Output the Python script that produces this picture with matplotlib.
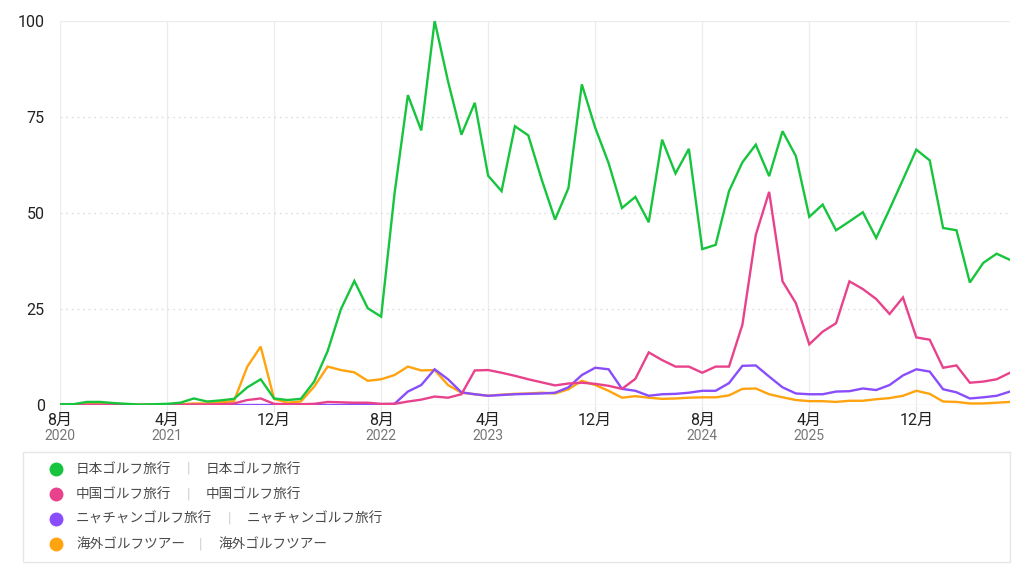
import pandas as pd
import matplotlib
matplotlib.use('Agg')
import matplotlib.pyplot as plt
from matplotlib.patches import Rectangle
from matplotlib.lines import Line2D
import matplotlib.transforms as mtransforms

plt.rcParams['font.family'] = ['Roboto', 'Noto Sans CJK JP', 'DejaVu Sans']

# monthly, Aug 2020 .. Jul 2026
months = pd.date_range('2020-08-01', periods=72, freq='MS')

japan = [0.2, 0.2, 0.8, 0.8, 0.5, 0.3, 0.1, 0.2, 0.3, 0.6, 1.7, 0.9, 1.2, 1.6, 4.6, 6.7,
         1.7, 1.3, 1.6, 6.1, 14.0, 25.0, 32.3, 25.2, 23.0, 55.0, 80.7, 71.5, 100.0, 84.3, 70.4, 78.7,
         59.7, 55.7, 72.6, 70.2, 58.7, 48.3, 56.5, 83.5, 72.2, 63.0, 51.3, 54.2, 47.6, 69.1, 60.3, 66.7,
         40.6, 41.7, 55.7, 63.2, 67.8, 59.6, 71.3, 64.8, 49.0, 52.2, 45.5, 47.8, 50.2, 43.5, 51.0, 58.7,
         66.5, 63.7, 46.1, 45.5, 31.9, 37.0, 39.4, 37.8]
china = [0.0, 0.0, 0.0, 0.0, 0.0, 0.0, 0.0, 0.0, 0.0, 0.0, 0.1, 0.1, 0.2, 0.4, 1.3, 1.7,
         0.3, 0.2, 0.2, 0.3, 0.8, 0.7, 0.6, 0.6, 0.3, 0.3, 0.9, 1.4, 2.2, 1.9, 2.8, 9.0,
         9.1, 8.4, 7.6, 6.7, 5.9, 5.1, 5.6, 5.8, 5.5, 5.0, 4.2, 6.8, 13.7, 11.7, 10.0, 10.0,
         8.4, 10.0, 10.0, 20.9, 44.3, 55.5, 32.2, 26.5, 15.8, 19.1, 21.3, 32.2, 30.2, 27.6, 23.7, 28.0,
         17.6, 17.0, 9.7, 10.3, 5.8, 6.1, 6.7, 8.4]
nhatrang = [0.0, 0.0, 0.0, 0.0, 0.0, 0.0, 0.0, 0.0, 0.0, 0.0, 0.0, 0.0, 0.0, 0.0, 0.0, 0.0,
            0.0, 0.0, 0.0, 0.0, 0.0, 0.0, 0.2, 0.2, 0.2, 0.3, 3.5, 5.2, 9.3, 6.7, 3.3, 2.8,
            2.4, 2.6, 2.8, 2.9, 3.0, 3.2, 4.6, 7.8, 9.7, 9.3, 4.2, 3.7, 2.4, 2.8, 2.9, 3.2,
            3.7, 3.7, 5.7, 10.2, 10.3, 7.4, 4.6, 3.0, 2.8, 2.8, 3.5, 3.6, 4.3, 3.9, 5.2, 7.7,
            9.3, 8.7, 4.1, 3.3, 1.7, 2.0, 2.4, 3.5]
overseas = [0.0, 0.1, 0.2, 0.3, 0.2, 0.1, 0.1, 0.1, 0.1, 0.2, 0.4, 0.4, 0.7, 1.0, 10.0, 15.2,
            1.6, 0.6, 0.9, 4.8, 10.0, 9.1, 8.5, 6.3, 6.7, 7.8, 10.0, 9.0, 9.1, 5.2, 3.2, 2.8,
            2.4, 2.7, 2.9, 3.0, 3.2, 3.0, 4.1, 6.3, 5.2, 3.7, 1.9, 2.3, 1.9, 1.6, 1.7, 1.9,
            2.0, 2.0, 2.5, 4.2, 4.3, 2.8, 2.0, 1.3, 1.0, 1.0, 0.8, 1.1, 1.1, 1.5, 1.8, 2.4,
            3.7, 2.9, 0.9, 0.8, 0.4, 0.4, 0.6, 0.8]

names = ['日本ゴルフ旅行', '中国ゴルフ旅行', 'ニャチャンゴルフ旅行', '海外ゴルフツアー']
colors = ['#17c43e', '#e8428c', '#8a4dfb', '#ffa30f']
series = [japan, china, nhatrang, overseas]

tick_idx = [0, 8, 16, 24, 32, 40, 48, 56, 64]
tick_month = ['8月', '4月', '12月', '8月', '4月', '12月', '8月', '4月', '12月']
tick_year = ['2020', '2021', '', '2022', '2023', '', '2024', '2025', '']

fig = plt.figure(figsize=(10.24, 5.76), dpi=100)
ax = fig.add_axes([60 / 1024, 171 / 576, 950 / 1024, 384 / 576])

x = list(range(len(months)))
# draw in reverse so the green line ends on top
for name, col, vals in reversed(list(zip(names, colors, series))):
    ax.plot(x, vals, color=col, lw=1.7, solid_joinstyle='miter', label=name)

ax.set_xlim(0, 71)
ax.set_ylim(0, 100)
for s in ax.spines.values():
    s.set_visible(False)

# grid
for t in tick_idx:
    ax.axvline(t, color='#ececec', lw=0.9, zorder=0)
for yv in [25, 50, 75]:
    ax.axhline(yv, color='#dedede', lw=0.9, ls=(0, (1.5, 3)), zorder=0)
ax.axhline(100, color='#ececec', lw=0.9, zorder=0)
ax.axhline(0, color='#e4e4e4', lw=1.0, zorder=0)

ax.set_yticks([0, 25, 50, 75, 100])
ax.set_yticklabels(['0', '25', '50', '75', '100'], fontsize=11.5, color='#222222')
ax.tick_params(axis='y', length=0, pad=11)

ax.set_xticks(tick_idx)
ax.set_xticklabels(tick_month, fontsize=11.5, color='#222222')
ax.tick_params(axis='x', length=5, color='#e4e4e4', pad=1)

trans = mtransforms.blended_transform_factory(ax.transData, ax.transAxes)
for t, yr in zip(tick_idx, tick_year):
    if yr:
        ax.text(t, -0.081, yr, transform=trans, ha='center', va='center',
                fontsize=10, color='#777777')

# legend box
fig.add_artist(Rectangle((23 / 1024, 1 - 562 / 576), 987 / 1024, 110 / 576,
                         transform=fig.transFigure, facecolor='white',
                         edgecolor='#e6e6e6', lw=1.0))
row_y = [469, 494, 519, 544]
sep_x = [188, 188, 229, 200]
for name, col, ry, sx in zip(names, colors, row_y, sep_x):
    yf = 1 - ry / 576
    fig.add_artist(Line2D([56 / 1024], [yf], marker='o', markersize=9,
                          markerfacecolor=col, markeredgecolor=col,
                          transform=fig.transFigure))
    fig.text(76 / 1024, yf, name, fontsize=9.8, color='#4a4a4a', va='center')
    fig.text(sx / 1024, yf, '|', fontsize=10, color='#cccccc', va='center', ha='center')
    fig.text((sx + 18) / 1024, yf, name, fontsize=9.8, color='#4a4a4a', va='center')

fig.savefig('out.png', dpi=100, facecolor='white')
